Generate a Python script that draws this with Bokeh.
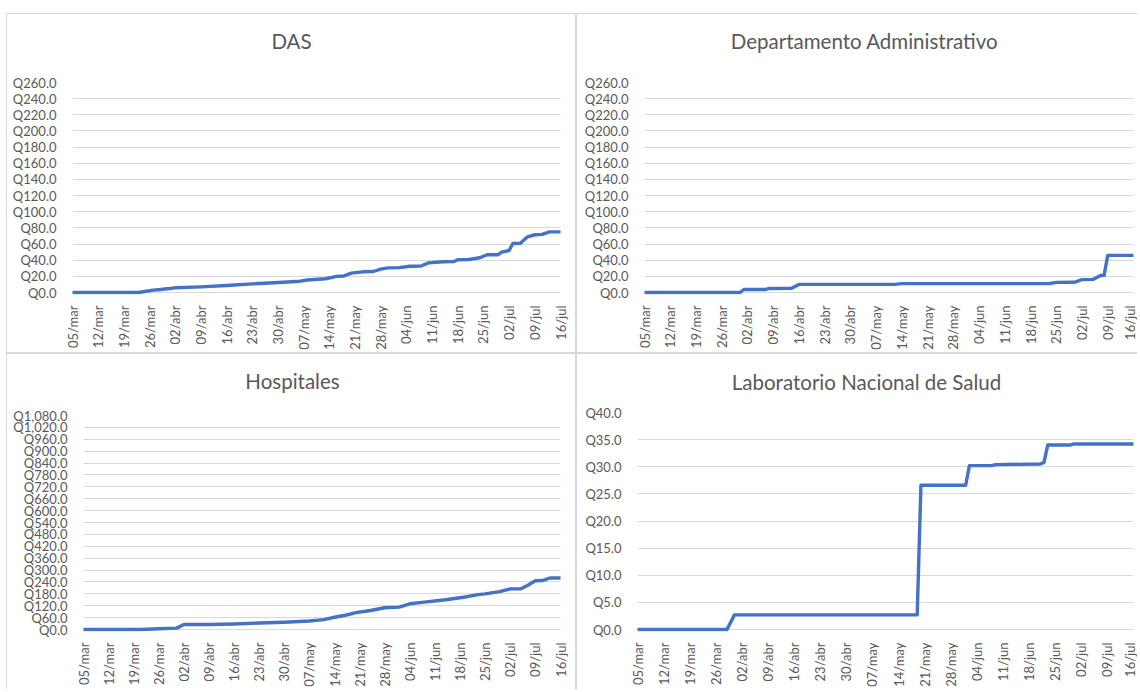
import pandas as pd
from math import pi
from bokeh.plotting import figure
from bokeh.layouts import row, column
from bokeh.models import Range1d, FixedTicker, Spacer
from bokeh.core.properties import value
from bokeh.embed import file_html
from bokeh.resources import INLINE

START = "2020-03-05"
tick_labels = ["05/mar", "12/mar", "19/mar", "26/mar", "02/abr", "09/abr", "16/abr",
               "23/abr", "30/abr", "07/may", "14/may", "21/may", "28/may", "04/jun",
               "11/jun", "18/jun", "25/jun", "02/jul", "09/jul", "16/jul"]

das_dates = ["2020-03-05", "2020-03-23", "2020-03-27", "2020-03-29", "2020-04-02", "2020-04-09",
             "2020-04-16", "2020-04-23", "2020-04-29", "2020-05-06", "2020-05-08", "2020-05-13",
             "2020-05-16", "2020-05-18", "2020-05-20", "2020-05-23", "2020-05-26", "2020-05-28",
             "2020-05-30", "2020-06-02", "2020-06-05", "2020-06-08", "2020-06-10", "2020-06-14",
             "2020-06-17", "2020-06-18", "2020-06-21", "2020-06-24", "2020-06-26", "2020-06-29",
             "2020-06-30", "2020-07-02", "2020-07-03", "2020-07-05", "2020-07-07", "2020-07-09",
             "2020-07-11", "2020-07-13", "2020-07-16"]
das_values = [0, 0, 3, 3.7, 5.8, 7, 8.7, 10.7, 12, 14, 15.5, 17, 20, 20.5, 24, 25.6, 26, 29,
              30.5, 30.8, 32.5, 32.8, 36.7, 38, 38.3, 40.5, 40.8, 43, 46.7, 46.8, 50, 52, 60.6,
              60.8, 69, 71.5, 72, 75, 75]

da_dates = ["2020-03-05", "2020-03-31", "2020-04-01", "2020-04-07", "2020-04-08", "2020-04-14",
            "2020-04-16", "2020-05-12", "2020-05-14", "2020-06-23", "2020-06-25", "2020-06-30",
            "2020-07-02", "2020-07-05", "2020-07-07", "2020-07-08", "2020-07-09", "2020-07-16"]
da_values = [0, 0, 3.7, 3.8, 5, 5.2, 10, 10, 11, 11, 12.5, 12.7, 16, 16.2, 21, 21.2, 46, 46]

hosp_dates = ["2020-03-05", "2020-03-21", "2020-03-26", "2020-03-31", "2020-04-02", "2020-04-09",
              "2020-04-16", "2020-04-23", "2020-04-30", "2020-05-07", "2020-05-11", "2020-05-14",
              "2020-05-17", "2020-05-20", "2020-05-24", "2020-05-28", "2020-06-01", "2020-06-04",
              "2020-06-08", "2020-06-14", "2020-06-19", "2020-06-23", "2020-06-25", "2020-06-29",
              "2020-07-02", "2020-07-05", "2020-07-07", "2020-07-09", "2020-07-11", "2020-07-13",
              "2020-07-16"]
hosp_values = [0, 0, 4, 7, 25, 25, 28, 33, 37, 43, 50, 62, 72, 85, 96, 110, 113, 130, 138, 150,
               163, 176, 180, 191, 205, 206, 225, 246, 247, 260, 260]

lns_dates = ["2020-03-05", "2020-03-29", "2020-03-31", "2020-05-19", "2020-05-20", "2020-06-01",
             "2020-06-02", "2020-06-08", "2020-06-09", "2020-06-21", "2020-06-22", "2020-06-23",
             "2020-06-29", "2020-06-30", "2020-07-16"]
lns_values = [0, 0, 2.7, 2.7, 26.6, 26.6, 30.2, 30.2, 30.4, 30.5, 30.8, 34.0, 34.0, 34.2, 34.2]

FONT = "Lato"
TXT = "#595959"
GRID = "#d9d9d9"
LINE = "#4472C4"
BORDER = "1px solid #d9d9d9"


def days(ds):
    return list((pd.to_datetime(ds) - pd.Timestamp(START)).days)


def borders(sides):
    st = {}
    for side, on in zip(["top", "right", "bottom", "left"], sides):
        if on:
            st["border-" + side] = BORDER
    return st


def panel(title, dates, vals, ymax, ystep, host, sides, frame, tcenter):
    hx, hy, hw, hh = host          # page rect of the panel, border included
    bt, br, bb, bl = sides         # border on top/right/bottom/left (0 or 1)
    ox, oy = hx + bl, hy + bt      # canvas origin on the page
    w, h = hw - bl - br, hh - bt - bb
    fl, fr, ft, fb = frame         # page coords of plot area (Q0 line at fb)
    pad = 2
    gap = 12
    ht = ft - oy - gap             # height of the title strip
    ph = h - ht                    # height of the plot canvas
    py = oy + ht
    ml = fl - ox
    mr = (ox + w) - fr
    mb = (py + ph) - fb - pad
    fh = fb - ft
    y0 = -ymax * pad / fh
    xmax = 7 * (len(tick_labels) - 1)

    # title strip (its frame is aligned with the plot frame below it)
    t = figure(width=w, height=ht, output_backend="svg", toolbar_location=None, tools="",
               title=None, x_range=Range1d(fl, fr), y_range=Range1d(oy + ht, oy),
               x_axis_location=None, y_axis_location=None,
               min_border_left=ml, min_border_right=mr, min_border_top=0, min_border_bottom=0,
               styles=borders((bt, br, 0, bl)))
    t.outline_line_color = None
    t.background_fill_color = "white"
    t.border_fill_color = "white"
    t.grid.visible = False
    tx, ty = tcenter
    t.text(x=[tx], y=[ty], text=[title], text_font=value(FONT),
           text_font_size="20.5px", text_color=TXT, text_align="center", text_baseline="middle")

    p = figure(width=w, height=ph, output_backend="svg", toolbar_location=None, tools="",
               title=None, x_range=Range1d(0, xmax), y_range=Range1d(y0, ymax),
               min_border_left=ml, min_border_right=mr, min_border_top=gap, min_border_bottom=mb,
               styles=borders((0, br, bb, bl)))
    p.outline_line_color = None
    p.background_fill_color = "white"
    p.border_fill_color = "white"

    yt = list(range(0, int(ymax) + 1, ystep))
    p.yaxis.ticker = FixedTicker(ticks=yt)
    p.yaxis.major_label_overrides = {v: "Q{:,.1f}".format(v) for v in yt}
    p.yaxis.axis_line_color = None
    p.yaxis.major_tick_line_color = None
    p.yaxis.minor_tick_line_color = None
    p.yaxis.major_label_standoff = 10
    p.yaxis.major_label_text_font = FONT
    p.yaxis.major_label_text_font_size = "13px"
    p.yaxis.major_label_text_color = TXT

    xt = [7 * i for i in range(len(tick_labels))]
    p.xaxis.ticker = FixedTicker(ticks=xt)
    p.xaxis.major_label_overrides = {v: lab for v, lab in zip(xt, tick_labels)}
    p.xaxis.major_label_orientation = pi / 2
    p.xaxis.axis_line_color = None
    p.xaxis.major_tick_line_color = None
    p.xaxis.minor_tick_line_color = None
    p.xaxis.major_label_standoff = 5
    p.xaxis.major_label_text_font = FONT
    p.xaxis.major_label_text_font_size = "13px"
    p.xaxis.major_label_text_color = TXT

    p.xgrid.grid_line_color = None
    p.ygrid.grid_line_color = GRID
    p.ygrid.grid_line_width = 1

    p.line(days(dates), vals, line_color=LINE, line_width=3.4, line_join="round", line_cap="round")
    return column(t, p, spacing=0)


p1 = panel("DAS", das_dates, das_values, 260, 20, (6, 13, 572, 342), (1, 1, 1, 1),
           (72, 560, 83, 293), (291, 40))
p2 = panel("Departamento Administrativo", da_dates, da_values, 260, 20, (578, 13, 562, 342),
           (1, 0, 1, 1), (646, 1135, 83, 293), (866, 40))
p3 = panel("Hospitales", hosp_dates, hosp_values, 1080, 60, (6, 355, 572, 337), (1, 1, 0, 1),
           (83, 560, 418, 634), (292, 382))
p4 = panel("Laboratorio Nacional de Salud", lns_dates, lns_values, 40, 5, (578, 355, 562, 337),
           (1, 0, 0, 1), (639, 1135, 415, 636), (868, 383))

layout = column(Spacer(width=10, height=13),
                row(Spacer(width=6, height=10), p1, p2),
                row(Spacer(width=6, height=10), p3, p4))
open("out.html", "w").write(file_html(layout, INLINE))
